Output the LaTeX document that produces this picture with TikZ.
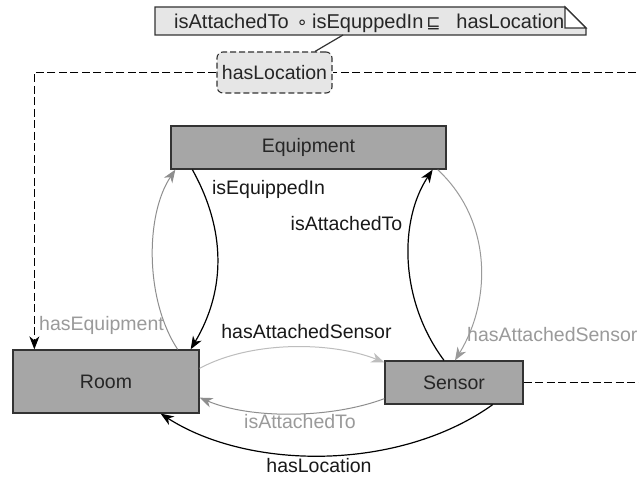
\documentclass[tikz,border=0pt]{standalone}
\usepackage{fontspec}
\setmainfont{Liberation Sans}
\newfontfamily\symfont{DejaVu Sans}
\usetikzlibrary{arrows.meta}
\definecolor{boxgray}{HTML}{A6A6A6}
\definecolor{notegray}{HTML}{E6E6E6}
\definecolor{lblgray}{HTML}{9A9A9A}
\definecolor{edgegray}{HTML}{8E8E8E}
\definecolor{edgelight}{HTML}{BDBDBD}
\definecolor{bordergray}{HTML}{333333}
\tikzset{
  cls/.style={draw=bordergray, line width=1.3pt, fill=boxgray, inner sep=0pt, font=\fontsize{19.5}{23}\selectfont, text=black!85},
  lbl/.style={inner sep=0pt, text height=14pt, text depth=4pt, font=\fontsize{19.5}{23}\selectfont, text=black!90},
  glbl/.style={lbl, text=lblgray},
  tipk/.style={-{Stealth[length=13pt,width=10pt,inset=4pt]}},
  blk/.style={tipk, draw=black, line width=1.2pt},
  gry/.style={tipk, draw=edgegray, line width=1pt},
  lgry/.style={tipk, draw=edgelight, line width=1pt},
  dsh/.style={draw=black, line width=1.1pt, dash pattern=on 8pt off 3.5pt},
}
\begin{document}
\begin{tikzpicture}[x=1pt,y=-1pt]
\useasboundingbox[fill=white] (0,0) rectangle (639,481);
\clip (0,0) rectangle (639,481);

% classes
\node[cls, minimum width=186pt, minimum height=63pt] (room) at (106,381.5) {Room};
\node[cls, minimum width=138pt, minimum height=43pt] (sensor) at (454,382.5) {Sensor};
\node[cls, minimum width=275pt, minimum height=43pt] (equip) at (308.5,147.5) {Equipment};

% hasLocation label box
\node[draw=bordergray, line width=1.1pt, dash pattern=on 6pt off 3pt, rounded corners=6pt, fill=notegray,
      minimum width=115pt, minimum height=41pt, inner sep=0pt, font=\fontsize{19.5}{23}\selectfont, text=black!85] (hl) at (274.5,72.5) {hasLocation};

% note
\coordinate (n1) at (155,7);
\coordinate (n2) at (565,7);
\coordinate (n3) at (586,28);
\coordinate (n4) at (586,35);
\coordinate (n5) at (155,35);
\draw[fill=notegray, draw=bordergray, line width=1.2pt] (n1) -- (n2) -- (n3) -- (n4) -- (n5) -- cycle;
\node[lbl, anchor=west, text=black!85] (notetext) at (174,23.5) {\fontsize{20}{23}\selectfont isAttachedTo\hspace{9.5pt}\makebox[8pt]{\fontsize{18}{20}\symfont ∘}\hspace{6pt}isEquppedIn\hspace{6pt}\makebox[8pt]{\fontsize{17}{20}\symfont ⊑}\hspace{19pt}hasLocation};
\draw[fill=white, draw=bordergray, line width=1.2pt] (n2) -- (n3) -- (565,28) -- cycle;
\coordinate (nc) at (343,35);
\draw[draw=bordergray, line width=1.2pt] (nc) -- ([xshift=40.5pt]hl.north);

% dashed hasLocation connector
\draw[dsh] (sensor.east) -- ++(160,0) |- (hl.east);
\draw[dsh, tipk] (hl.west) -| ([xshift=22pt]room.north west);

% hasEquipment (Room -> Equipment)
\draw[gry] ([xshift=-22pt]room.north east) .. controls (145,300) and (145,215) .. ([xshift=5pt]equip.south west);
% isEquippedIn (Equipment -> Room)
\draw[blk] ([xshift=22pt]equip.south west) .. controls (226,230) and (226,290) .. ([xshift=-9pt]room.north east);
% isAttachedTo (Sensor -> Equipment)
\draw[blk] ([xshift=-10pt]sensor.north) .. controls (399,300) and (399,220) .. ([xshift=-14pt]equip.south east);
% hasAttachedSensor (Equipment -> Sensor)
\draw[gry, draw=lblgray] ([xshift=-9pt]equip.south east) .. controls (492,220) and (492,300) .. ([xshift=1pt]sensor.north);
% hasAttachedSensor (Room -> Sensor)
\draw[lgry] ([yshift=-19pt]room.north east) .. controls (250,341) and (330,341) .. ([yshift=-2pt]sensor.north west);
% isAttachedTo (Sensor -> Room)
\draw[gry] ([yshift=6pt]sensor.south west) .. controls (330,419) and (250,419) .. ([yshift=16pt]room.south east);
% hasLocation (Sensor -> Room)
\draw[blk] ([xshift=-31pt]sensor.south east) .. controls (400,471) and (250,471) .. ([xshift=-39pt]room.south east);

% labels
\node[glbl] (l1) at (101.5,325) {hasEquipment};
\node[lbl] (l2) at (268.5,189) {isEquippedIn};
\node[lbl] (l3) at (346.5,225) {isAttachedTo};
\node[glbl, anchor=west] (l4) at (467,336) {hasAttachedSensor};
\node[lbl] (l5) at (306.5,333) {hasAttachedSensor};
\node[glbl] (l6) at (300,423) {isAttachedTo};
\node[lbl] (l7) at (319,467) {hasLocation};
\end{tikzpicture}
\end{document}
